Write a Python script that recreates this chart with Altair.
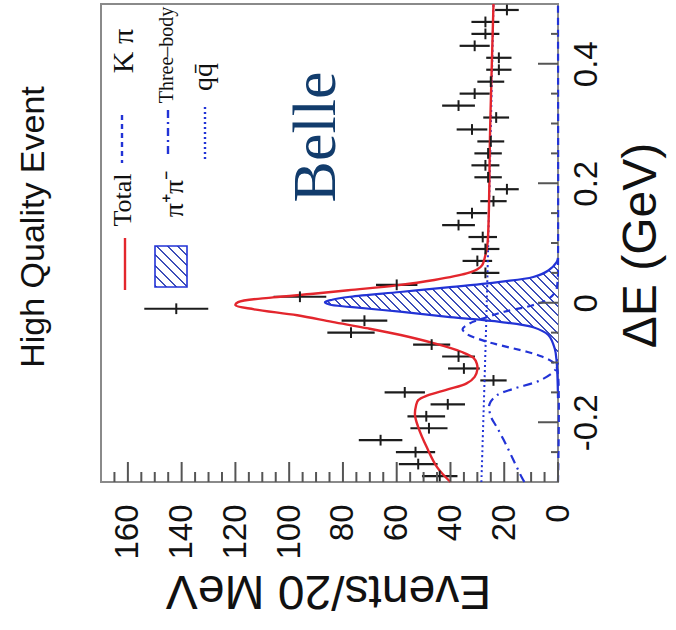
import altair as alt
import pandas as pd

# ---------------- data ----------------
bin_dE = [-0.29, -0.27, -0.25, -0.23, -0.21, -0.19, -0.17, -0.15, -0.13, -0.11,
          -0.09, -0.07, -0.05, -0.03, -0.01, 0.01, 0.03, 0.05, 0.07, 0.09,
          0.11, 0.13, 0.15, 0.17, 0.19, 0.21, 0.23, 0.25, 0.27, 0.29,
          0.31, 0.33, 0.35, 0.37, 0.39, 0.41, 0.43, 0.45, 0.47, 0.49]
counts = [44, 52, 53, 66, 48, 49, 41, 57, 24, 35,
          37, 47, 77, 72, 142, 96, 60, 27, 30, 27,
          28, 37, 32, 24, 19, 26, 27, 26, 25, 32,
          23, 37, 31, 25, 22, 22, 31, 27, 27, 19]
errors = [6.6, 7.2, 7.3, 8.1, 6.9, 7.0, 6.4, 7.5, 4.9, 5.9,
          6.1, 6.9, 8.8, 8.5, 11.9, 9.8, 7.7, 5.2, 5.5, 5.2,
          5.3, 6.1, 5.7, 4.9, 4.4, 5.1, 5.2, 5.1, 5.0, 5.7,
          4.8, 6.1, 5.6, 5.0, 4.7, 4.7, 5.6, 5.2, 5.2, 4.4]
bin_half = 0.009

total_dE = [-0.30, -0.275, -0.242, -0.208, -0.188, -0.172, -0.163, -0.155, -0.145, -0.135,
            -0.124, -0.112, -0.102, -0.092, -0.082, -0.068, -0.054, -0.043, -0.032, -0.021,
            -0.011, -0.004, 0.001, 0.009, 0.015, 0.021, 0.029, 0.038, 0.049, 0.056,
            0.063, 0.080, 0.100, 0.300, 0.500]
total_n = [40.0, 45.0, 48.8, 52.0, 53.2, 52.8, 52.0, 48.5, 41.0, 34.0,
           31.0, 30.0, 30.2, 31.5, 36.0, 46.0, 58.5, 70.5, 84.0, 97.0,
           113.0, 120.0, 119.0, 106.0, 91.0, 78.0, 60.0, 46.0, 34.0, 30.0,
           28.2, 27.0, 26.2, 25.2, 24.0]

sig_dE = [-0.099, -0.077, -0.054, -0.041, -0.032, -0.024, -0.015, -0.007, -0.003, 0.001,
          0.005, 0.010, 0.018, 0.026, 0.035, 0.043, 0.054, 0.068]
sig_n = [0.5, 1.2, 3.6, 9.2, 21.6, 40.2, 58.8, 77.4, 85.0, 86.7,
         84.0, 77.4, 58.8, 40.2, 21.6, 9.2, 3.6, 0.5]

kpi_dE = [-0.30, -0.12, -0.105, -0.098, -0.090, -0.082, -0.071, -0.063, -0.052, -0.044,
          -0.035, -0.025, -0.015, -0.005, 0.005, 0.020, 0.040, 0.060, 0.500]
kpi_n = [0.0, 0.0, 0.8, 2.3, 6.0, 11.6, 21.6, 28.0, 34.0, 35.5,
         33.0, 27.0, 20.0, 10.0, 4.0, 0.8, 0.1, 0.0, 0.0]

three_dE = [-0.30, -0.292, -0.264, -0.236, -0.210, -0.190, -0.170, -0.155, -0.144,
            -0.130, -0.113, -0.100]
three_n = [12.5, 13.5, 16.5, 19.5, 22.5, 25.0, 25.5, 22.8, 16.6,
           6.7, 1.1, 0.0]

qq_dE = [-0.30, 0.00, 0.50]
qq_n = [28.5, 26.5, 24.0]

x_ticks_major = [0, 20, 40, 60, 80, 100, 120, 140, 160]
x_ticks_minor = [5, 10, 15, 25, 30, 35, 45, 50, 55, 65, 70, 75, 85, 90, 95, 105, 110,
                 115, 125, 130, 135, 145, 150, 155, 165]
y_ticks_major = [-0.2, 0.0, 0.2, 0.4]
y_ticks_minor = [-0.25, -0.15, -0.1, -0.05, 0.05, 0.1, 0.15, 0.25, 0.3, 0.35, 0.45]

# ---------------- layout / style ----------------
W, H = 457, 478
X_DOM = [0, 170]
Y_DOM = [-0.3, 0.5]
RED = "#e3262d"
BLUE = "#2233d6"
HATCH = "#3c4db8"
INK = "#1c1c1c"
GRAY = "#8a8a8a"
SANS = "Liberation Sans"
SERIF = "Liberation Serif"

xs = alt.Scale(domain=X_DOM, reverse=True, nice=False, zero=False)
ys = alt.Scale(domain=Y_DOM, nice=False, zero=False)

x_axis = alt.Axis(values=x_ticks_major, labelAngle=270, labelAlign="right",
                  labelBaseline="middle", labelPadding=22, labelFontSize=33,
                  labelFont=SANS, labelColor="#111", ticks=False, domain=False,
                  grid=False, labelFlush=False, labelOverlap=False,
                  title="Events/20 MeV", titleAngle=180, titleFontSize=48,
                  titleFont=SANS, titleFontWeight="normal", titleX=227, titleY=107,
                  titleAlign="center", titleBaseline="middle", titleColor="#111")
y_axis = alt.Axis(orient="right", values=y_ticks_major, labelExpr="'' + datum.value",
                  labelAngle=270, labelAlign="center", labelBaseline="top",
                  labelPadding=12, labelFontSize=33, labelFont=SANS, labelColor="#111",
                  ticks=False, domain=False, grid=False, labelFlush=False,
                  labelOverlap=False, title="ΔE (GeV)", titleAngle=270,
                  titleFontSize=48, titleFont=SANS, titleFontWeight="normal",
                  titleX=83, titleY=241, titleAlign="center", titleBaseline="middle",
                  titleColor="#111")


def hatch(w, h, spacing, frac=0.2, color=HATCH):
    """Diagonal '\\' stripes as a linear gradient over a w x h bounding box."""
    r = h / w
    k = (1 + r) / (1 + r * r)
    n = max(1, int(round((w + h) / spacing)))
    stops = []
    for i in range(n):
        a = i / n
        b = (i + frac) / n
        c = (i + 1) / n
        stops += [{"offset": a, "color": color}, {"offset": b, "color": color},
                  {"offset": b, "color": "white"}, {"offset": c, "color": "white"}]
    return {"gradient": "linear", "x1": 0, "y1": 1, "x2": k, "y2": 1 - k * r,
            "stops": stops}


def X(field):
    return alt.X(f"{field}:Q", scale=xs, axis=x_axis)


def Y(field):
    return alt.Y(f"{field}:Q", scale=ys, axis=y_axis)


pts = pd.DataFrame({"dE": bin_dE, "n": counts, "err": errors})
pts["lo"] = pts["n"] - pts["err"]
pts["hi"] = pts["n"] + pts["err"]
pts["dlo"] = pts["dE"] - bin_half
pts["dhi"] = pts["dE"] + bin_half

# signal (hatched) area
sig = pd.DataFrame({"dE": sig_dE, "n": sig_n})
sig["base"] = 0.0
px_per_n = W / (X_DOM[1] - X_DOM[0])
px_per_e = H / (Y_DOM[1] - Y_DOM[0])
area_w = max(sig_n) * px_per_n
area_h = (max(sig_dE) - min(sig_dE)) * px_per_e
sig_area = alt.Chart(sig).mark_area(orient="horizontal", interpolate="catmull-rom",
                                    fill=hatch(area_w, area_h, 9.0)).encode(
    y=Y("dE"), x=X("n"), x2="base:Q")

sig_full = pd.DataFrame({"dE": [-0.16] + sig_dE + [0.075], "n": [0.0] + sig_n + [0.0]})
sig_line = alt.Chart(sig_full).mark_line(color=BLUE, strokeWidth=2.2, interpolate="catmull-rom").encode(
    y=Y("dE"), x=X("n"), order=alt.Order("dE:Q"))


def curve(dE, n, color, dash=None, width=2.2):
    df = pd.DataFrame({"dE": dE, "n": n})
    kw = dict(color=color, strokeWidth=width, interpolate="catmull-rom")
    if dash:
        kw["strokeDash"] = dash
    return alt.Chart(df).mark_line(**kw).encode(y=Y("dE"), x=X("n"), order=alt.Order("dE:Q"))


qq_line = curve(qq_dE, qq_n, BLUE, [2, 3], 2.0)
kpi_line = curve(kpi_dE, kpi_n, BLUE, [7, 5], 2.2)
three_line = curve(three_dE, three_n, BLUE, [9, 5, 2, 5], 2.2)
total_line = curve(total_dE, total_n, RED, None, 2.4)

hbar = alt.Chart(pts).mark_rule(color=INK, strokeWidth=2.2).encode(
    y=Y("dE"), x=X("lo"), x2="hi:Q")
vbar = alt.Chart(pts).mark_rule(color=INK, strokeWidth=2.0).encode(
    x=X("n"), y=Y("dlo"), y2="dhi:Q")

# inward tick marks
xt_major = alt.Chart(pd.DataFrame({"v": x_ticks_major})).mark_rule(color="#555", strokeWidth=2).encode(
    x=X("v"), y=alt.value(H), y2=alt.value(H - 20))
xt_minor = alt.Chart(pd.DataFrame({"v": x_ticks_minor})).mark_rule(color="#555", strokeWidth=2).encode(
    x=X("v"), y=alt.value(H), y2=alt.value(H - 10))
yt_major = alt.Chart(pd.DataFrame({"v": y_ticks_major})).mark_rule(color="#555", strokeWidth=2).encode(
    y=Y("v"), x=alt.value(W), x2=alt.value(W - 20))
yt_minor = alt.Chart(pd.DataFrame({"v": y_ticks_minor})).mark_rule(color="#555", strokeWidth=2).encode(
    y=Y("v"), x=alt.value(W), x2=alt.value(W - 7))

one = pd.DataFrame({"a": [0]})


def label(text, x, y, size, font=SERIF, color="#111", weight="normal"):
    return alt.Chart(one).mark_text(text=text, angle=270, align="center", baseline="middle",
                                    fontSize=size, font=font, color=color,
                                    fontWeight=weight).encode(x=alt.value(x), y=alt.value(y))


def vline(x, y1, y2, color, dash=None, width=2.4):
    kw = dict(color=color, strokeWidth=width)
    if dash:
        kw["strokeDash"] = dash
    return alt.Chart(one).mark_rule(**kw).encode(x=alt.value(x), y=alt.value(y1), y2=alt.value(y2))


legend_box = alt.Chart(one).mark_rect(fill=hatch(32, 41, 11.0), stroke=BLUE, strokeWidth=1.6).encode(
    x=alt.value(54), x2=alt.value(86), y=alt.value(242), y2=alt.value(283))

texts = [
    label("High Quality Event", -67, 223, 34, font=SANS),
    label("Belle", 215, 133, 62, font=SERIF, color="#123c6c"),
    label("Total", 22, 196, 26),
    label("K π", 23, 47, 30),
    label("π⁺π⁻", 74, 190, 28),
    label("Three–body", 66, 51, 20),
    label("qq̄", 103, 73, 28),
]
legend_lines = [
    vline(24, 234, 286, RED),
    vline(21, 111, 159, BLUE, [5, 4]),
    vline(67, 106, 153, BLUE, [8, 4, 2, 4]),
    vline(104, 103, 156, BLUE, [2, 3]),
]

chart = alt.layer(
    hbar, sig_area, kpi_line, sig_line, qq_line, three_line, total_line, vbar,
    xt_major, xt_minor, yt_major, yt_minor, legend_box, *legend_lines, *texts,
).properties(
    width=W, height=H,
    autosize=alt.AutoSizeParams(type="none"),
    padding={"left": 101, "top": 4, "right": 118, "bottom": 148},
    background="white",
).configure_view(stroke=GRAY, strokeWidth=2)

chart.save("out.html", embed_options={"renderer": "svg", "actions": False})
